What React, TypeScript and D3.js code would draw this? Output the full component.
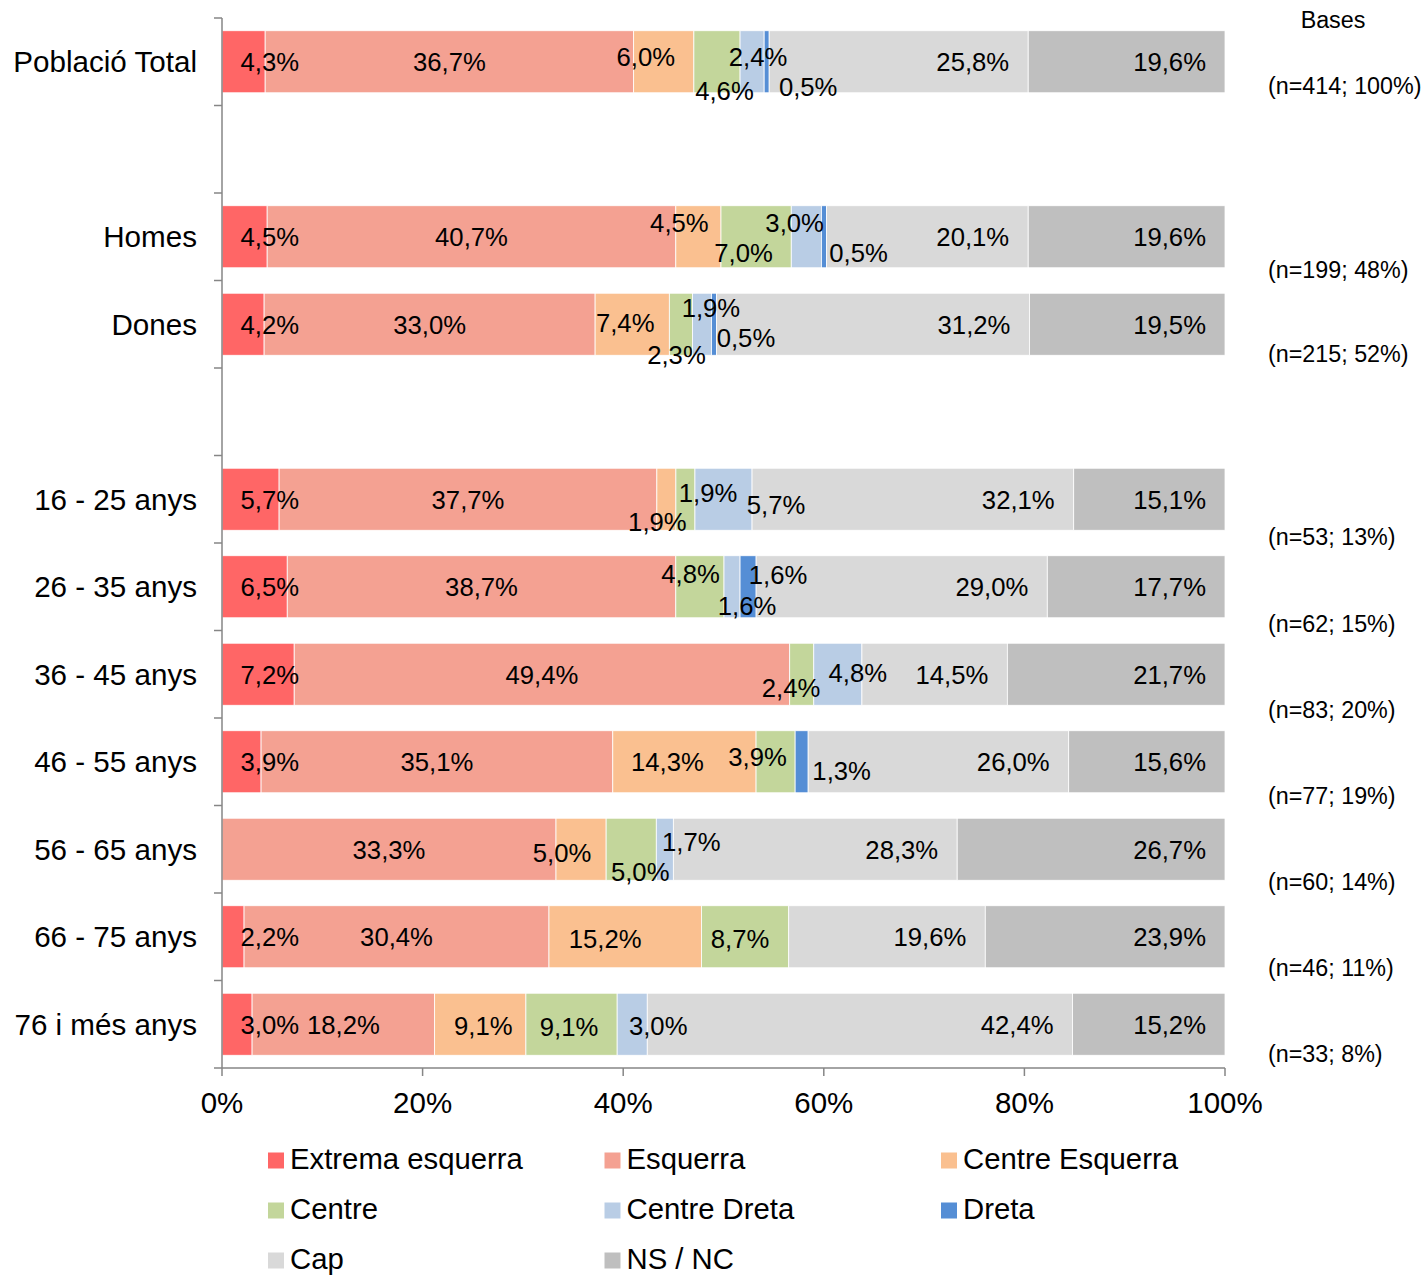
import React from "react";
import * as d3 from "d3";

// ---------- data ----------
const categories = [
  "Població Total",
  "Homes",
  "Dones",
  "16 - 25 anys",
  "26 - 35 anys",
  "36 - 45 anys",
  "46 - 55 anys",
  "56 - 65 anys",
  "66 - 75 anys",
  "76 i més anys",
];
const gapAfter = ["Població Total", "Dones"];

const seriesNames = [
  "Extrema esquerra",
  "Esquerra",
  "Centre Esquerra",
  "Centre",
  "Centre Dreta",
  "Dreta",
  "Cap",
  "NS / NC",
];
const seriesColors = [
  "#FF6666",
  "#F4A192",
  "#FAC090",
  "#C3D69B",
  "#B9CDE5",
  "#558ED5",
  "#D9D9D9",
  "#BFBFBF",
];

const extremaEsquerra = [4.3, 4.5, 4.2, 5.7, 6.5, 7.2, 3.9, 0, 2.2, 3.0];
const esquerra = [36.7, 40.7, 33.0, 37.7, 38.7, 49.4, 35.1, 33.3, 30.4, 18.2];
const centreEsquerra = [6.0, 4.5, 7.4, 1.9, 0, 0, 14.3, 5.0, 15.2, 9.1];
const centre = [4.6, 7.0, 2.3, 1.9, 4.8, 2.4, 3.9, 5.0, 8.7, 9.1];
const centreDreta = [2.4, 3.0, 1.9, 5.7, 1.6, 4.8, 0, 1.7, 0, 3.0];
const dreta = [0.5, 0.5, 0.5, 0, 1.6, 0, 1.3, 0, 0, 0];
const cap = [25.8, 20.1, 31.2, 32.1, 29.0, 14.5, 26.0, 28.3, 19.6, 42.4];
const nsnc = [19.6, 19.6, 19.5, 15.1, 17.7, 21.7, 15.6, 26.7, 23.9, 15.2];
const seriesValues = [extremaEsquerra, esquerra, centreEsquerra, centre, centreDreta, dreta, cap, nsnc];

const basesN = [414, 199, 215, 53, 62, 83, 77, 60, 46, 33];
const basesPct = [100, 48, 52, 13, 15, 20, 19, 14, 11, 8];

const xTicks = [0, 0.2, 0.4, 0.6, 0.8, 1];

// label nudges (category index, series index, dx px, dy px) for the small labels moved by hand
const labelNudges: [number, number, number, number][] = [
  [0, 2, -18, -5], [0, 3, 7.5, 29], [0, 4, 6, -5], [0, 5, 41.5, 24.5],
  [1, 2, -19, -14.5], [1, 3, -12.6, 15.5], [1, 4, -11.7, -14.5], [1, 5, 34.7, 15.5],
  [2, 2, -7, -1.5], [2, 3, -4.4, 30], [2, 4, 9, -16.5], [2, 5, 32, 13.5],
  [3, 2, -9, 22], [3, 3, 22.6, -6.5], [3, 4, 52.5, 5],
  [4, 3, -9.4, -13], [4, 4, 15, 19], [4, 5, 30, -12],
  [5, 3, -10.7, 13.5], [5, 4, 20, -2],
  [6, 2, -17, 0], [6, 3, -18, -5], [6, 5, 40, 9],
  [7, 2, -19, 3.5], [7, 3, 9, 22], [7, 4, 26.5, -7.5],
  [8, 2, -20, 2], [8, 3, -5, 2],
  [9, 2, 3, 1], [9, 3, -2.5, 2], [9, 4, 26, 1],
];

// ---------- layout ----------
const W = 1425;
const H = 1275;
const M = { left: 222, right: 1225, top: 18, bottom: 1068 };
const FONT = "'Liberation Sans', Arial, sans-serif";
const AXIS = "#868686";
const catFont = 29.6;
const axisFont = 29.5;
const legendFont = 29.3;
const valFont = 25.7;
const baseFont = 23.3;

const fmt = (v: number) => d3.format(".1f")(v).replace(".", ",") + "%";

export default function App() {
  const slots: string[] = [];
  categories.forEach((c, i) => {
    slots.push(c);
    if (gapAfter.includes(c)) slots.push(`__gap${i}`);
  });

  const y = d3
    .scaleBand<string>()
    .domain(slots)
    .range([M.top, M.bottom])
    .paddingInner(0.291)
    .paddingOuter(0.1455);
  const x = d3.scaleLinear().domain([0, 1]).range([M.left, M.right]);

  const table = categories.map((c, i) => {
    const o: any = { category: c };
    seriesNames.forEach((s, j) => (o[s] = seriesValues[j][i]));
    return o;
  });
  const stacked = d3.stack<any>().keys(seriesNames).offset(d3.stackOffsetExpand)(table);

  const step = y.step();
  const boundaries = slots.map((s) => (y(s) as number) - (step * y.paddingInner()) / 2);
  boundaries.push(M.bottom);

  const nudge = (ci: number, si: number) => {
    const f = labelNudges.find((n) => n[0] === ci && n[1] === si);
    return f ? [f[2], f[3]] : [0, 0];
  };

  // the "Bases" text boxes sit a little off the bar bottoms (hand placed)
  const baseOffset = (i: number) => {
    if (i === 0) return -7;
    if (i === 1) return 2;
    if (i === 2) return -2;
    return 6.75 - 1.33 * (i - 3);
  };

  return (
    <svg
      width={W}
      height={H}
      style={{ position: "absolute", left: 0, top: 0, background: "#fff" }}
      fontFamily={FONT}
    >
      <rect x={0} y={0} width={W} height={H} fill="#fff" />
      {/* bars */}
      {stacked.map((layer, si) => (
        <g key={seriesNames[si]} fill={seriesColors[si]}>
          {layer.map((d, ci) => {
            const v = seriesValues[si][ci];
            if (!v) return null;
            const cat = categories[ci];
            return (
              <rect
                key={cat}
                x={x(d[0])}
                y={y(cat)}
                width={x(d[1]) - x(d[0])}
                height={y.bandwidth()}
                stroke="#fff"
                strokeWidth={0.8}
              />
            );
          })}
        </g>
      ))}

      {/* axes */}
      <g stroke={AXIS} strokeWidth={1.5} fill="none">
        <line x1={M.left} x2={M.left} y1={M.top} y2={M.bottom} />
        {boundaries.map((b, i) => (
          <line key={i} x1={M.left - 8} x2={M.left} y1={b} y2={b} />
        ))}
        <line x1={M.left} x2={M.right} y1={M.bottom} y2={M.bottom} />
        {xTicks.map((t) => (
          <line key={t} x1={x(t)} x2={x(t)} y1={M.bottom} y2={M.bottom + 8} />
        ))}
      </g>
      {xTicks.map((t) => (
        <text key={t} x={x(t)} y={M.bottom + 45} textAnchor="middle" fontSize={axisFont} fill="#000">
          {d3.format(".0%")(t)}
        </text>
      ))}

      {/* category labels */}
      {categories.map((c) => (
        <text
          key={c}
          x={197}
          y={(y(c) as number) + y.bandwidth() / 2 + catFont * 0.355}
          textAnchor="end"
          fontSize={catFont}
          fill="#000"
        >
          {c}
        </text>
      ))}

      {/* value labels */}
      {stacked.map((layer, si) =>
        layer.map((d, ci) => {
          const v = seriesValues[si][ci];
          if (!v) return null;
          const cat = categories[ci];
          const x0 = x(d[0]);
          const x1 = x(d[1]);
          const yc = (y(cat) as number) + y.bandwidth() / 2;
          const [dx, dy] = nudge(ci, si);
          let tx = (x0 + x1) / 2 + dx;
          let anchor: "start" | "middle" | "end" = "middle";
          if (si === 0) {
            tx = x0 + 18.5;
            anchor = "start";
          } else if (si >= 6) {
            tx = x1 - 19;
            anchor = "end";
          }
          return (
            <text
              key={`${si}-${ci}`}
              x={tx}
              y={yc + dy + valFont * 0.36}
              textAnchor={anchor}
              fontSize={valFont}
              fill="#000"
            >
              {fmt(v)}
            </text>
          );
        })
      )}

      {/* bases */}
      <text x={1333} y={28} textAnchor="middle" fontSize={baseFont} fill="#000">
        Bases
      </text>
      {categories.map((c, i) => {
        const bottom = (y(c) as number) + y.bandwidth();
        const cy = bottom + baseOffset(i);
        return (
          <text key={c} x={1268} y={cy + baseFont * 0.36} fontSize={baseFont} fill="#000">
            {`(n=${basesN[i]}; ${basesPct[i]}%)`}
          </text>
        );
      })}

      {/* legend */}
      {seriesNames.map((s, i) => {
        const col = i % 3;
        const row = Math.floor(i / 3);
        const lx = 268 + col * 336.5;
        const base = 1169 + row * 50;
        return (
          <g key={s}>
            <rect x={lx} y={base - 16.5} width={16} height={16} fill={seriesColors[i]} />
            <text x={lx + 22} y={base} fontSize={legendFont} fill="#000">
              {s}
            </text>
          </g>
        );
      })}
    </svg>
  );
}
